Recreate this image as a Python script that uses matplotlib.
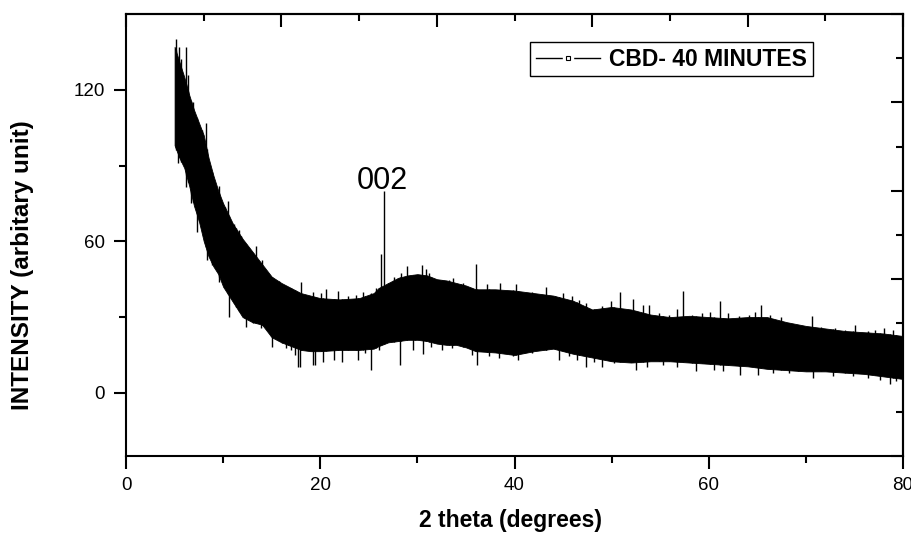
import numpy as np
import matplotlib.pyplot as plt
from matplotlib.lines import Line2D
from matplotlib.legend_handler import HandlerTuple

plt.rcParams['font.family'] = ['Liberation Sans', 'DejaVu Sans']

# ---- data ----
# body of the noisy XRD trace: typical upper / lower edge vs 2 theta
theta_env = [5.0, 5.5, 6.0, 6.5, 7.0, 7.5, 8.0, 8.5, 9.0, 9.5, 10.0, 11, 12, 13, 14, 15,
             16, 17, 18, 19, 20, 22, 24, 25.5, 26, 27, 28, 29, 30, 31, 32, 33, 34, 35,
             36, 38, 40, 42, 44, 46, 48, 50, 52, 54, 56, 58, 60, 62, 64, 66, 68, 70,
             72, 74, 76, 78, 80]
upper_env = [137, 131, 125, 118, 112, 107, 102, 93, 86, 80, 75, 67, 61, 56, 51, 46,
             43.5, 41.5, 39.5, 38.5, 37.5, 37, 37.5, 39.5, 41.5, 43.5, 45.5, 46.5, 47, 46.5, 45, 44.5, 43.5, 42.5,
             41, 41, 40.5, 39.5, 38.5, 36.5, 33, 34, 33, 31, 30, 30.5, 30, 29.5, 30, 30, 28, 26.5,
             25.5, 24.5, 24, 23.5, 22.5]
lower_env = [98, 93, 89, 82, 74, 68, 60, 54, 50, 47, 42, 36, 30, 28, 27, 22,
             20, 18.5, 17, 16.5, 16.5, 17, 17, 17.5, 18.5, 20, 20.5, 21, 21, 20.5, 19.5, 19, 19, 18,
             16.5, 16, 15, 16.5, 17.5, 15.5, 14, 12.5, 12, 12.5, 12.5, 12, 11.5, 11, 10.5, 9.5, 9, 8.5,
             8.5, 8, 7.5, 6.5, 5.5]

# spikes rising above the body (x, tip)
up_spike_x = [5.1, 5.46, 5.7, 6.2, 6.4, 6.7, 6.9, 7.5, 8.2, 8.5, 8.9, 9.6, 10.5, 11.1, 11.6,
              12.2, 13.4, 14.0, 14.9, 16.1, 16.7, 18.0, 19.2, 20.1, 20.6, 21.8, 22.9, 23.7,
              24.4, 25.2, 25.7, 26.3, 26.55, 27.6, 28.3, 28.9, 29.7, 30.5, 30.9, 31.2, 31.9,
              32.5, 33.2, 33.7, 34.7, 36.0, 36.5, 37.2, 38.5, 39.4, 40.2, 41.0, 41.8, 43.2,
              44.2, 45.0, 45.9, 46.6, 47.4, 48.3, 49.0, 49.9, 50.9, 52.2, 53.2, 53.8, 54.9,
              55.9, 56.7, 57.3, 58.3, 59.3, 60.1, 61.2, 62.0, 63.1, 64.1, 64.8, 65.4, 66.3,
              67.4, 68.2, 69.2, 70.6, 71.6, 73.0, 74.0, 75.1, 76.4, 77.1, 78.0, 79.0]
up_spike_tip = [140, 137, 132, 137, 126, 115, 115, 98, 107, 88, 86, 82, 76, 67, 64.5,
                59, 58, 52.7, 45, 41.5, 41, 44, 40.1, 39.5, 41, 40.5, 38.2, 38.8,
                40.1, 39.5, 41.5, 55, 80, 46, 47.5, 50.3, 46, 50.7, 49, 47.5, 44.8,
                44, 44.8, 45.5, 43.4, 51, 38.8, 43, 43.4, 38.8, 43, 39.5, 40.1, 42.1,
                38.2, 39.5, 38.2, 36.9, 35.6, 32.9, 34.4, 36.2, 40.1, 37.2, 34.9, 34.9, 31.5,
                30.9, 33.2, 40.5, 30.9, 31.5, 32.2, 36.2, 31.5, 30.5, 30.9, 32.2, 34.6, 30.9,
                30, 25.6, 26.3, 30.5, 26, 25.6, 25, 26.9, 24.3, 25, 25.6, 25]

# spikes dipping below the body (x, tip)
lo_spike_x = [5.1, 5.4, 6.2, 6.4, 6.7, 7.3, 7.8, 8.3, 8.9, 9.6, 10.2, 10.6, 11.3, 11.8,
              12.4, 13.1, 13.9, 15.0, 15.7, 16.5, 17.0, 17.4, 17.7, 17.9, 19.2, 19.5, 20.3,
              21.4, 22.2, 23.9, 24.6, 25.2, 26.0, 27.0, 28.2, 29.5, 30.6, 31.4, 32.5, 33.6,
              34.5, 35.6, 36.1, 37.4, 38.4, 39.8, 40.4, 41.8, 43.2, 44.6, 45.6, 46.4, 47.4,
              48.2, 49.0, 50.2, 52.5, 53.6, 55.3, 56.7, 58.7, 60.5, 61.5, 63.2, 65.1, 66.6,
              68.3, 70.7, 72.8, 74.8, 76.4, 77.6, 78.7, 79.3]
lo_spike_tip = [96, 91, 81.6, 85.5, 75, 63.8, 67.8, 52.7, 51.4, 44, 43.4, 30.2, 34.1, 36.1,
                26.2, 27.5, 25.5, 18.3, 22.3, 17.7, 17, 15, 10.1, 10.4, 11, 11, 12.4,
                13, 12.4, 13, 15.7, 9.1, 17, 21, 11, 17, 15.4, 18.3, 17, 17.7,
                19, 15, 11, 14.4, 13.7, 14.4, 13, 15.7, 17, 13, 14.4, 13, 10.2,
                12.4, 10.4, 11.7, 8.9, 10.4, 11, 10.4, 8.5, 9.1, 8.5, 7.2, 6.9, 7.8,
                7.8, 5.8, 6.5, 6.5, 5.8, 5.2, 3.6, 4.5]

peak_x, peak_y, peak_label = 26.4, 80.8, '002'
legend_label = 'CBD- 40 MINUTES'

# ---- figure ----
fig = plt.figure(figsize=(9.12, 5.33), dpi=100)
ax = fig.add_axes([0.1382, 0.1445, 0.852, 0.8292])

ax.fill_between(theta_env, lower_env, upper_env, color='black', lw=0.6)
# spikes start inside the body so they join it
ax.vlines(up_spike_x, np.interp(up_spike_x, theta_env, lower_env), up_spike_tip,
          color='black', lw=1.0)
ax.vlines(lo_spike_x, lo_spike_tip, np.interp(lo_spike_x, theta_env, upper_env),
          color='black', lw=1.0)

ax.text(peak_x, peak_y, peak_label, ha='center', va='baseline', fontsize=22)

ax.set_xlim(0, 80)
ax.set_ylim(-25, 150)
ax.set_xticks([0, 20, 40, 60, 80])
ax.set_xticks([10, 30, 50, 70], minor=True)
ax.set_yticks([0, 60, 120])
ax.set_yticks([30, 90], minor=True)

for s in ax.spines.values():
    s.set_linewidth(1.5)
ax.tick_params(which='both', direction='out', width=1.5, labelsize=13.5, top=False, right=False)
ax.tick_params(which='major', length=9, pad=6)
ax.tick_params(which='minor', length=5)

# Origin style top/right axes with their own tick divisions, ticks inward
top = ax.secondary_xaxis('top', functions=(lambda x: x / 8.0, lambda x: x * 8.0))
top.set_xticks([0, 2, 4, 6, 8, 10])
top.set_xticks([1, 3, 5, 7, 9], minor=True)
top.tick_params(which='both', direction='in', width=1.5, labeltop=False)
top.tick_params(which='major', length=9)
top.tick_params(which='minor', length=5)
top.spines['top'].set_linewidth(1.5)

right = ax.secondary_yaxis('right', functions=(lambda y: (y + 25) / 17.5, lambda y: y * 17.5 - 25))
right.set_yticks([0, 2, 4, 6, 8, 10])
right.set_yticks([1, 3, 5, 7, 9], minor=True)
right.tick_params(which='both', direction='in', width=1.5, labelright=False)
right.tick_params(which='major', length=9)
right.tick_params(which='minor', length=5)
right.spines['right'].set_linewidth(1.5)

ax.set_xlabel('2 theta (degrees)', fontsize=16.5, fontweight='bold', va='center')
ax.set_ylabel('INTENSITY (arbitary unit)', fontsize=17.5, fontweight='bold', va='center')
ax.xaxis.set_label_coords(0.495, -0.145)
ax.yaxis.set_label_coords(-0.133, 0.432)

# legend: line - small open square - line
h_line = Line2D([], [], color='black', lw=1)
h_gap = Line2D([], [], ls='none', marker='s', ms=7, mfc='white', mec='white')
h_sq = Line2D([], [], ls='none', marker='s', ms=2.5, mfc='white', mec='black', mew=0.8)
leg = ax.legend([(h_line, h_gap, h_sq)], [legend_label],
                handler_map={tuple: HandlerTuple(ndivide=1, pad=0)},
                loc='upper right', bbox_to_anchor=(0.884, 0.937), borderaxespad=0,
                fancybox=False, edgecolor='black', framealpha=1,
                handlelength=2.8, handletextpad=0.4, borderpad=0.25,
                prop={'weight': 'bold', 'size': 16.5})
leg.get_frame().set_linewidth(1.0)

fig.savefig('out.png', dpi=100)
